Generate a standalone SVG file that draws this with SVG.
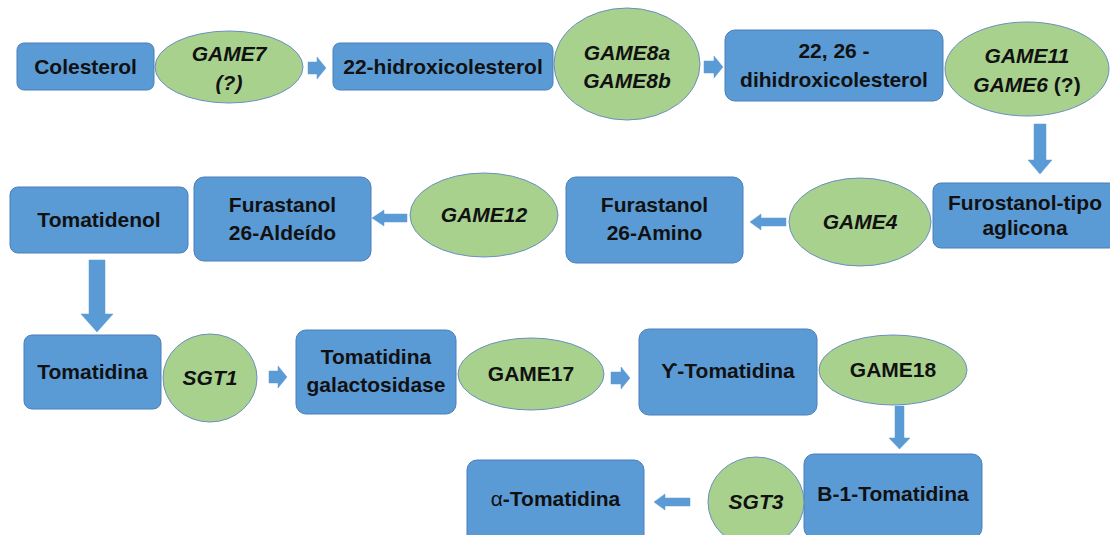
<svg xmlns="http://www.w3.org/2000/svg" width="1110" height="535" viewBox="0 0 1110 535">
<style>
.box{fill:#5B9BD5;stroke:#4A7EBB;stroke-width:1}
.enz{fill:#A9D18E;stroke:#6A8FBF;stroke-width:1}
.arr{fill:#5B9BD5;stroke:#5B9BD5;stroke-width:0.5}
text{font-family:"Liberation Sans",Arial,sans-serif;font-weight:bold;font-size:21px;fill:#111;text-anchor:middle}
.i{font-style:italic}
</style>
<rect width="1110" height="535" fill="#fff"/>
<g id="connectors">
<path class="arr" d="M308,62 L317,62 L317,57 L326,68 L317,79 L317,74 L308,74 Z"/>
<path class="arr" d="M704,61 L714,61 L714,56 L723,67 L714,78 L714,73 L704,73 Z"/>
<path class="arr" d="M1034,124 L1046,124 L1046,160 L1052,160 L1040,174 L1028,160 L1034,160 Z"/>
<path class="arr" d="M786,218 L761,218 L761,214 L750,222 L761,230 L761,226 L786,226 Z"/>
<path class="arr" d="M407,214 L384,214 L384,210 L372,218 L384,226 L384,222 L407,222 Z"/>
<path class="arr" d="M89,260 L105,260 L105,314 L113,314 L97,332 L81,314 L89,314 Z"/>
<path class="arr" d="M269,371 L278,371 L278,366 L287,377 L278,388 L278,383 L269,383 Z"/>
<path class="arr" d="M611,372 L621,372 L621,367 L630,378 L621,389 L621,384 L611,384 Z"/>
<path class="arr" d="M895,406 L904,406 L904,438 L910,438 L899.5,449 L889,438 L895,438 Z"/>
<path class="arr" d="M690,498 L665,498 L665,494 L654,502 L665,510 L665,506 L690,506 Z"/>
</g>
<g id="colesterol"><rect class="box" x="17" y="43" width="137" height="47" rx="7"/><text x="85.5" y="74">Colesterol</text></g>
<g id="game7"><ellipse class="enz" cx="229" cy="67" rx="74" ry="36"/><text class="i" x="229" y="61">GAME7</text><text class="i" x="229" y="90">(?)</text></g>
<g id="hidroxicolesterol22"><rect class="box" x="333" y="43" width="220" height="47" rx="7"/><text x="443" y="74">22-hidroxicolesterol</text></g>
<g id="game8"><ellipse class="enz" cx="627" cy="64" rx="73" ry="56"/><text class="i" x="627" y="60">GAME8a</text><text class="i" x="627" y="88">GAME8b</text></g>
<g id="dihidroxicolesterol"><rect class="box" x="725" y="30" width="218" height="71" rx="10"/><text x="834" y="58">22, 26 -</text><text x="834" y="87">dihidroxicolesterol</text></g>
<g id="game11"><ellipse class="enz" cx="1027" cy="69" rx="82" ry="47"/><text class="i" x="1027" y="63">GAME11</text><text x="1027" y="92"><tspan class="i">GAME6</tspan> (?)</text></g>
<g id="furostanol"><rect class="box" x="933" y="183" width="184" height="65" rx="8"/><text x="1025" y="210">Furostanol-tipo</text><text x="1025" y="235">aglicona</text></g>
<g id="game4"><ellipse class="enz" cx="860" cy="222" rx="71" ry="44"/><text class="i" x="860" y="229">GAME4</text></g>
<g id="amino"><rect class="box" x="566" y="177" width="177" height="86" rx="10"/><text x="654.5" y="212">Furastanol</text><text x="654.5" y="240">26-Amino</text></g>
<g id="game12"><ellipse class="enz" cx="484" cy="215" rx="74" ry="42"/><text class="i" x="484" y="222">GAME12</text></g>
<g id="aldeido"><rect class="box" x="194" y="177" width="177" height="84" rx="10"/><text x="282.5" y="212">Furastanol</text><text x="282.5" y="240">26-Aldeído</text></g>
<g id="tomatidenol"><rect class="box" x="10" y="187" width="178" height="66" rx="8"/><text x="99" y="227">Tomatidenol</text></g>
<g id="tomatidina"><rect class="box" x="24" y="335" width="137" height="74" rx="8"/><text x="92.5" y="379">Tomatidina</text></g>
<g id="sgt1"><ellipse class="enz" cx="210" cy="378" rx="47" ry="44"/><text class="i" x="210" y="385">SGT1</text></g>
<g id="galactosidase"><rect class="box" x="296" y="330" width="160" height="84" rx="10"/><text x="376" y="364">Tomatidina</text><text x="376" y="392">galactosidase</text></g>
<g id="game17"><ellipse class="enz" cx="531" cy="374" rx="73" ry="36"/><text x="531" y="381">GAME17</text></g>
<g id="ytomatidina"><rect class="box" x="639" y="329" width="178" height="86" rx="10"/><text x="728" y="378">ϒ-Tomatidina</text></g>
<g id="game18"><ellipse class="enz" cx="893" cy="370" rx="74" ry="35"/><text x="893" y="377">GAME18</text></g>
<g id="b1tomatidina"><rect class="box" x="804" y="454" width="178" height="84" rx="10"/><text x="893" y="501">B-1-Tomatidina</text></g>
<g id="sgt3"><ellipse class="enz" cx="756" cy="502" rx="48" ry="45"/><text class="i" x="756" y="509">SGT3</text></g>
<g id="atomatidina"><rect class="box" x="467" y="460" width="177" height="92" rx="10"/><text x="555.5" y="506"><tspan font-weight="normal">α</tspan>-Tomatidina</text></g>
</svg>
